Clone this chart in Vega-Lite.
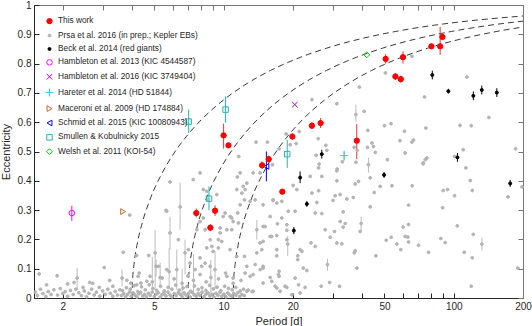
{
"$schema": "https://vega.github.io/schema/vega-lite/v6.json",
"width": 489, "height": 293,
"autosize": {"type": "none"},
"padding": {"left": 34, "top": 5, "right": 9, "bottom": 28},
"background": "white",
"config": {
 "view": {"stroke": null},
 "font": "Liberation Sans",
 "axis": {"labelFont": "Liberation Sans", "titleFont": "Liberation Sans", "labelFontSize": 10, "titleFontSize": 11, "titleFontWeight": "normal", "labelColor": "#262626", "titleColor": "#262626", "domainColor": "#262626", "tickColor": "#262626", "tickSize": -5, "grid": false, "labelPadding": 8},
 "legend": {"orient": "none", "legendX": 11, "legendY": 12, "labelFont": "Liberation Sans", "labelFontSize": 8.3, "labelColor": "#262626", "rowPadding": 4.4, "symbolStrokeWidth": 1, "labelOffset": 4, "padding": 0}
},
"datasets": {
 "curves": [
  {"c":"4","P":4,"e":0},{"c":"4","P":4.02,"e":0.0576},{"c":"4","P":4.08,"e":0.1145},{"c":"4","P":4.2,"e":0.1789},{"c":"4","P":4.4,"e":0.2481},{"c":"4","P":4.8,"e":0.3383},{"c":"4","P":5.4,"e":0.4258},{"c":"4","P":6,"e":0.4867},{"c":"4","P":7,"e":0.558},{"c":"4","P":8,"e":0.6083},{"c":"4","P":10,"e":0.6761},{"c":"4","P":12,"e":0.7206},{"c":"4","P":16,"e":0.7766},{"c":"4","P":20,"e":0.8112},{"c":"4","P":28,"e":0.8525},{"c":"4","P":40,"e":0.8858},{"c":"4","P":56,"e":0.9098},{"c":"4","P":80,"e":0.9297},{"c":"4","P":120,"e":0.9468},{"c":"4","P":200,"e":0.9625},
  {"c":"7","P":7,"e":0},{"c":"7","P":7.035,"e":0.0576},{"c":"7","P":7.14,"e":0.1145},{"c":"7","P":7.35,"e":0.1789},{"c":"7","P":7.7,"e":0.2481},{"c":"7","P":8.4,"e":0.3383},{"c":"7","P":9.45,"e":0.4258},{"c":"7","P":10.5,"e":0.4867},{"c":"7","P":12.25,"e":0.558},{"c":"7","P":14,"e":0.6083},{"c":"7","P":17.5,"e":0.6761},{"c":"7","P":21,"e":0.7206},{"c":"7","P":28,"e":0.7766},{"c":"7","P":35,"e":0.8112},{"c":"7","P":49,"e":0.8525},{"c":"7","P":70,"e":0.8858},{"c":"7","P":98,"e":0.9098},{"c":"7","P":140,"e":0.9297},{"c":"7","P":200,"e":0.945},
  {"c":"11","P":11,"e":0},{"c":"11","P":11.055,"e":0.0576},{"c":"11","P":11.22,"e":0.1145},{"c":"11","P":11.55,"e":0.1789},{"c":"11","P":12.1,"e":0.2481},{"c":"11","P":13.2,"e":0.3383},{"c":"11","P":14.85,"e":0.4258},{"c":"11","P":16.5,"e":0.4867},{"c":"11","P":19.25,"e":0.558},{"c":"11","P":22,"e":0.6083},{"c":"11","P":27.5,"e":0.6761},{"c":"11","P":33,"e":0.7206},{"c":"11","P":44,"e":0.7766},{"c":"11","P":55,"e":0.8112},{"c":"11","P":77,"e":0.8525},{"c":"11","P":110,"e":0.8858},{"c":"11","P":154,"e":0.9098},{"c":"11","P":200,"e":0.9249}
 ],
 "pts": [
  {"s":"P","P":24.2,"e":0.677},{"s":"P","P":31.06,"e":0.663},{"s":"P","P":13.84,"e":0.532},{"s":"P","P":15.5,"e":0.532},{"s":"P","P":18.7,"e":0.56},{"s":"P","P":21.3,"e":0.568},{"s":"P","P":19.47,"e":0.523},{"s":"P","P":17.43,"e":0.509},{"s":"P","P":20.67,"e":0.527},{"s":"P","P":25.76,"e":0.544},
  {"s":"P","P":27.82,"e":0.521},{"s":"P","P":28.1,"e":0.504},{"s":"P","P":50.5,"e":0.768},{"s":"P","P":65.8,"e":0.825},{"s":"P","P":38.9,"e":0.72},{"s":"P","P":114.1,"e":0.754},{"s":"P","P":74.65,"e":0.686},{"s":"P","P":40.8,"e":0.637},{"s":"P","P":37.56,"e":0.626,"lo":0.602,"hi":0.66},{"s":"P","P":142.2,"e":0.616},
  {"s":"P","P":106.5,"e":0.589},{"s":"P","P":119.2,"e":0.588},{"s":"P","P":50.0,"e":0.588},{"s":"P","P":53.4,"e":0.595},{"s":"P","P":75.7,"e":0.58},{"s":"P","P":61.1,"e":0.569},{"s":"P","P":42.35,"e":0.572},{"s":"P","P":58.4,"e":0.537},{"s":"P","P":65.8,"e":0.532},{"s":"P","P":66.9,"e":0.539},
  {"s":"P","P":44.1,"e":0.529},{"s":"P","P":44.8,"e":0.517},{"s":"P","P":45.6,"e":0.497},{"s":"P","P":42.2,"e":0.514},{"s":"P","P":61.5,"e":0.495},{"s":"P","P":51.5,"e":0.472},{"s":"P","P":73.7,"e":0.461},{"s":"P","P":75.2,"e":0.472},{"s":"P","P":110.0,"e":0.506},{"s":"P","P":100.8,"e":0.483},
  {"s":"P","P":185.7,"e":0.509},{"s":"P","P":113.0,"e":0.444},{"s":"P","P":26.0,"e":0.457},{"s":"P","P":25.25,"e":0.487},{"s":"P","P":32.8,"e":0.465},{"s":"P","P":37.56,"e":0.463},{"s":"P","P":42.6,"e":0.455,"lo":0.428,"hi":0.479},{"s":"P","P":31.15,"e":0.44},{"s":"P","P":16.3,"e":0.455},{"s":"P","P":11.64,"e":0.483},
  {"s":"P","P":7.9,"e":0.427},{"s":"P","P":5.85,"e":0.396},{"s":"P","P":7.38,"e":0.404},{"s":"P","P":8.45,"e":0.364},{"s":"P","P":9.34,"e":0.353},{"s":"P","P":5.66,"e":0.296},{"s":"P","P":3.91,"e":0.283},{"s":"P","P":6.47,"e":0.311,"lo":0.233,"hi":0.394},{"s":"P","P":5.85,"e":0.222,"lo":0.165,"hi":0.277},{"s":"P","P":6.36,"e":0.199},
  {"s":"P","P":7.65,"e":0.233},{"s":"P","P":8.31,"e":0.233},{"s":"P","P":9.66,"e":0.222},{"s":"P","P":10.33,"e":0.233},{"s":"P","P":10.85,"e":0.233},{"s":"P","P":8.74,"e":0.199},{"s":"P","P":9.49,"e":0.199},{"s":"P","P":8.45,"e":0.171},{"s":"P","P":8.89,"e":0.176},{"s":"P","P":7.03,"e":0.165},
  {"s":"P","P":6.8,"e":0.154,"lo":0.08,"hi":0.199},{"s":"P","P":9.0,"e":0.159},{"s":"P","P":10.15,"e":0.29},{"s":"P","P":10.67,"e":0.278},{"s":"P","P":11.0,"e":0.261},{"s":"P","P":11.8,"e":0.318},{"s":"P","P":11.41,"e":0.37},{"s":"P","P":12.0,"e":0.358},{"s":"P","P":11.6,"e":0.256},{"s":"P","P":12.16,"e":0.381},
  {"s":"P","P":12.61,"e":0.392},{"s":"P","P":13.94,"e":0.233,"lo":0.199,"hi":0.267},{"s":"P","P":14.41,"e":0.188},{"s":"P","P":14.85,"e":0.193},{"s":"P","P":15.93,"e":0.21},{"s":"P","P":17.03,"e":0.324},{"s":"P","P":16.4,"e":0.335},{"s":"P","P":11.8,"e":0.427},{"s":"P","P":13.04,"e":0.33},{"s":"P","P":13.71,"e":0.335},
  {"s":"P","P":15.93,"e":0.278},{"s":"P","P":14.66,"e":0.165},{"s":"P","P":17.03,"e":0.165},{"s":"P","P":12.32,"e":0.142},{"s":"P","P":12.61,"e":0.108},{"s":"P","P":13.71,"e":0.114},{"s":"P","P":14.41,"e":0.097},{"s":"P","P":11.41,"e":0.142},{"s":"P","P":17.3,"e":0.08},{"s":"P","P":16.2,"e":0.057},
  {"s":"P","P":14.85,"e":0.051},{"s":"P","P":17.03,"e":0.034},{"s":"P","P":13.04,"e":0.074},{"s":"P","P":11.0,"e":0.068},{"s":"P","P":10.33,"e":0.074},{"s":"P","P":5.04,"e":0.154,"lo":0.028,"hi":0.233},{"s":"P","P":5.21,"e":0.108},{"s":"P","P":5.66,"e":0.097},{"s":"P","P":4.79,"e":0.074},{"s":"P","P":4.19,"e":0.045},
  {"s":"P","P":4.64,"e":0.057},{"s":"P","P":6.26,"e":0.097,"lo":0.028,"hi":0.165},{"s":"P","P":7.15,"e":0.119},{"s":"P","P":7.9,"e":0.137},{"s":"P","P":8.03,"e":0.108},{"s":"P","P":8.31,"e":0.119},{"s":"P","P":8.74,"e":0.108},{"s":"P","P":9.18,"e":0.097,"lo":0.03,"hi":0.16},{"s":"P","P":7.52,"e":0.097},{"s":"P","P":3.66,"e":0.156},
  {"s":"P","P":3.03,"e":0.104},{"s":"P","P":1.58,"e":0.082},{"s":"P","P":1.89,"e":0.076},{"s":"P","P":4.19,"e":0.145},{"s":"P","P":4.73,"e":0.145},{"s":"P","P":5.09,"e":0.108,"lo":0.073,"hi":0.131},{"s":"P","P":2.31,"e":0.068,"lo":0.028,"hi":0.103},{"s":"P","P":2.24,"e":0.053},{"s":"P","P":2.62,"e":0.053},{"s":"P","P":2.45,"e":0.036},
  {"s":"P","P":2.88,"e":0.036},{"s":"P","P":3.62,"e":0.068,"lo":0.04,"hi":0.097},{"s":"P","P":3.3,"e":0.04},{"s":"P","P":3.95,"e":0.051},{"s":"P","P":4.37,"e":0.051},{"s":"P","P":4.25,"e":0.074},{"s":"P","P":5.41,"e":0.068},{"s":"P","P":5.62,"e":0.299},{"s":"P","P":8.16,"e":0.37},{"s":"P","P":8.58,"e":0.335},
  {"s":"P","P":7.9,"e":0.261},{"s":"P","P":8.16,"e":0.273},{"s":"P","P":9.96,"e":0.278},{"s":"P","P":10.85,"e":0.273},{"s":"P","P":9.82,"e":0.193},{"s":"P","P":9.66,"e":0.239},{"s":"P","P":9.49,"e":0.171},{"s":"P","P":10.67,"e":0.165},{"s":"P","P":11.48,"e":0.413},{"s":"P","P":12.4,"e":0.37},
  {"s":"P","P":12.32,"e":0.335},{"s":"P","P":11.52,"e":0.29},{"s":"P","P":14.85,"e":0.244},{"s":"P","P":13.44,"e":0.427},{"s":"P","P":14.41,"e":0.427},{"s":"P","P":13.94,"e":0.154},{"s":"P","P":12.4,"e":0.085},{"s":"P","P":14.85,"e":0.108},{"s":"P","P":13.44,"e":0.08},{"s":"P","P":12.61,"e":0.023},
  {"s":"P","P":13.44,"e":0.023},{"s":"P","P":25.87,"e":0.444},{"s":"P","P":23.78,"e":0.415},{"s":"P","P":26.73,"e":0.415},{"s":"P","P":31.06,"e":0.434},{"s":"P","P":31.06,"e":0.4},{"s":"P","P":43.35,"e":0.41},{"s":"P","P":38.55,"e":0.398},{"s":"P","P":37.3,"e":0.389},{"s":"P","P":47.92,"e":0.381},
  {"s":"P","P":45.12,"e":0.36},{"s":"P","P":53.9,"e":0.383},{"s":"P","P":20.81,"e":0.37},{"s":"P","P":24.19,"e":0.358},{"s":"P","P":25.87,"e":0.366},{"s":"P","P":30.53,"e":0.349},{"s":"P","P":32.1,"e":0.353},{"s":"P","P":34.33,"e":0.338},{"s":"P","P":36.6,"e":0.343},{"s":"P","P":29.9,"e":0.333},
  {"s":"P","P":25.42,"e":0.326},{"s":"P","P":43.35,"e":0.311},{"s":"P","P":33.1,"e":0.294},{"s":"P","P":25.0,"e":0.29},{"s":"P","P":26.73,"e":0.288},{"s":"P","P":19.1,"e":0.296},{"s":"P","P":20.46,"e":0.296},{"s":"P","P":17.9,"e":0.273},{"s":"P","P":18.83,"e":0.25},{"s":"P","P":32.1,"e":0.261},
  {"s":"P","P":33.76,"e":0.254},{"s":"P","P":33.1,"e":0.242},{"s":"P","P":39.6,"e":0.254,"lo":0.23,"hi":0.277},{"s":"P","P":39.2,"e":0.227},{"s":"P","P":27.63,"e":0.233},{"s":"P","P":30.32,"e":0.227},{"s":"P","P":29.05,"e":0.207},{"s":"P","P":17.03,"e":0.213},{"s":"P","P":18.83,"e":0.199},{"s":"P","P":19.0,"e":0.184,"lo":0.144,"hi":0.213},
  {"s":"P","P":24.0,"e":0.188},{"s":"P","P":25.0,"e":0.176},{"s":"P","P":31.06,"e":0.188},{"s":"P","P":32.65,"e":0.185},{"s":"P","P":37.0,"e":0.154},{"s":"P","P":37.3,"e":0.161},{"s":"P","P":45.9,"e":0.144},{"s":"P","P":50.9,"e":0.197},{"s":"P","P":53.5,"e":0.207},{"s":"P","P":21.5,"e":0.165},
  {"s":"P","P":21.9,"e":0.159},{"s":"P","P":21.0,"e":0.144},{"s":"P","P":21.0,"e":0.131},{"s":"P","P":28.27,"e":0.114,"lo":0.093,"hi":0.134},{"s":"P","P":37.94,"e":0.102},{"s":"P","P":22.2,"e":0.102},{"s":"P","P":23.0,"e":0.094},{"s":"P","P":17.43,"e":0.091},{"s":"P","P":17.43,"e":0.074},{"s":"P","P":20.46,"e":0.068},
  {"s":"P","P":28.9,"e":0.053},{"s":"P","P":26.55,"e":0.04},{"s":"P","P":31.9,"e":0.04},{"s":"P","P":22.6,"e":0.036},{"s":"P","P":21.17,"e":0.045},{"s":"P","P":18.83,"e":0.036},{"s":"P","P":17.6,"e":0.023},{"s":"P","P":19.8,"e":0.011},{"s":"P","P":21.5,"e":0.017},{"s":"P","P":17.03,"e":0.144},
  {"s":"P","P":20.05,"e":0.384},{"s":"P","P":16.4,"e":0.333},{"s":"P","P":17.9,"e":0.33},{"s":"P","P":14.85,"e":0.318},{"s":"P","P":15.15,"e":0.244},{"s":"P","P":17.14,"e":0.253},{"s":"P","P":16.2,"e":0.21},{"s":"P","P":18.83,"e":0.231},{"s":"P","P":14.85,"e":0.102},{"s":"P","P":15.93,"e":0.07},
  {"s":"P","P":16.75,"e":0.04},{"s":"P","P":18.51,"e":0.04},{"s":"P","P":76.5,"e":0.478},{"s":"P","P":73.6,"e":0.458},{"s":"P","P":118.0,"e":0.401},{"s":"P","P":120.4,"e":0.367},{"s":"P","P":90.0,"e":0.367},{"s":"P","P":94.0,"e":0.37},{"s":"P","P":100.8,"e":0.349},{"s":"P","P":172.1,"e":0.345},
  {"s":"P","P":198,"e":0.379},{"s":"P","P":66.0,"e":0.383},{"s":"P","P":63.6,"e":0.317},{"s":"P","P":89.5,"e":0.308},{"s":"P","P":103.6,"e":0.246},{"s":"P","P":63.6,"e":0.251},{"s":"P","P":60.3,"e":0.242},{"s":"P","P":61.5,"e":0.21},{"s":"P","P":63.2,"e":0.208},{"s":"P","P":63.6,"e":0.191},
  {"s":"P","P":56.6,"e":0.184},{"s":"P","P":58.9,"e":0.165},{"s":"P","P":70.3,"e":0.18},{"s":"P","P":77.7,"e":0.156},{"s":"P","P":87.9,"e":0.203},{"s":"P","P":91.8,"e":0.189},{"s":"P","P":121.6,"e":0.217},{"s":"P","P":111.1,"e":0.156},{"s":"P","P":120.4,"e":0.137},{"s":"P","P":132.6,"e":0.184,"lo":0.161,"hi":0.206},
  {"s":"P","P":190,"e":0.102},{"s":"P","P":119.2,"e":0.04},{"s":"P","P":36.93,"e":0.514},{"s":"P","P":38.05,"e":0.504},
  {"s":"P","P":1.52,"e":0.02},{"s":"P","P":1.55,"e":0.008},{"s":"P","P":1.6,"e":0.03},{"s":"P","P":1.64,"e":0.015},{"s":"P","P":1.69,"e":0.005},{"s":"P","P":1.73,"e":0.022},{"s":"P","P":1.78,"e":0.012},{"s":"P","P":1.83,"e":0.028},{"s":"P","P":1.9,"e":0.01},{"s":"P","P":1.95,"e":0.032},
  {"s":"P","P":2.0,"e":0.015},{"s":"P","P":2.05,"e":0.022},{"s":"P","P":2.1,"e":0.006},{"s":"P","P":2.16,"e":0.026},{"s":"P","P":2.22,"e":0.012},{"s":"P","P":2.28,"e":0.03},{"s":"P","P":2.35,"e":0.018},{"s":"P","P":2.41,"e":0.008},{"s":"P","P":2.48,"e":0.024},{"s":"P","P":2.54,"e":0.004},
  {"s":"P","P":2.6,"e":0.016},{"s":"P","P":2.67,"e":0.03},{"s":"P","P":2.74,"e":0.01},{"s":"P","P":2.8,"e":0.02},{"s":"P","P":2.9,"e":0.006},{"s":"P","P":2.98,"e":0.024},{"s":"P","P":3.06,"e":0.012},{"s":"P","P":3.14,"e":0.03},{"s":"P","P":3.22,"e":0.016},{"s":"P","P":3.3,"e":0.006},
  {"s":"P","P":3.38,"e":0.022},{"s":"P","P":3.46,"e":0.01},{"s":"P","P":3.54,"e":0.028},{"s":"P","P":1.7,"e":0.045},{"s":"P","P":2.1,"e":0.048},{"s":"P","P":2.7,"e":0.05},{"s":"P","P":3.2,"e":0.06},
  {"s":"P","P":3.6,"e":0.008},{"s":"P","P":3.68,"e":0.015},{"s":"P","P":3.75,"e":0.004},{"s":"P","P":3.82,"e":0.012},{"s":"P","P":3.9,"e":0.02},{"s":"P","P":3.97,"e":0.006},{"s":"P","P":4.05,"e":0.017},{"s":"P","P":4.12,"e":0.01},{"s":"P","P":4.2,"e":0.003},{"s":"P","P":4.28,"e":0.014},
  {"s":"P","P":4.36,"e":0.019},{"s":"P","P":4.45,"e":0.007},{"s":"P","P":4.53,"e":0.012},{"s":"P","P":4.62,"e":0.004},{"s":"P","P":4.71,"e":0.016},{"s":"P","P":4.8,"e":0.009},{"s":"P","P":4.9,"e":0.02},{"s":"P","P":5.0,"e":0.005},{"s":"P","P":5.1,"e":0.013},{"s":"P","P":5.2,"e":0.018},
  {"s":"P","P":5.3,"e":0.003},{"s":"P","P":5.4,"e":0.011},{"s":"P","P":5.5,"e":0.016},{"s":"P","P":5.62,"e":0.007},{"s":"P","P":5.73,"e":0.02},{"s":"P","P":5.85,"e":0.01},{"s":"P","P":5.97,"e":0.004},{"s":"P","P":6.1,"e":0.015},{"s":"P","P":6.22,"e":0.008},{"s":"P","P":6.35,"e":0.018},
  {"s":"P","P":6.48,"e":0.012},{"s":"P","P":6.6,"e":0.005},{"s":"P","P":6.74,"e":0.017},{"s":"P","P":6.88,"e":0.009},{"s":"P","P":7.02,"e":0.014},{"s":"P","P":7.16,"e":0.003},{"s":"P","P":7.3,"e":0.019},{"s":"P","P":7.45,"e":0.011},{"s":"P","P":7.6,"e":0.006},{"s":"P","P":7.75,"e":0.015},
  {"s":"P","P":7.9,"e":0.009},{"s":"P","P":8.06,"e":0.02},{"s":"P","P":8.22,"e":0.004},{"s":"P","P":8.38,"e":0.013},{"s":"P","P":8.55,"e":0.017},{"s":"P","P":8.72,"e":0.007},{"s":"P","P":8.9,"e":0.012},{"s":"P","P":9.08,"e":0.003},{"s":"P","P":9.26,"e":0.016},{"s":"P","P":9.45,"e":0.009},
  {"s":"P","P":9.64,"e":0.019},{"s":"P","P":9.83,"e":0.006},{"s":"P","P":10.03,"e":0.013},{"s":"P","P":10.23,"e":0.004},{"s":"P","P":10.43,"e":0.017},{"s":"P","P":10.64,"e":0.01},{"s":"P","P":10.85,"e":0.006},{"s":"P","P":11.07,"e":0.015},{"s":"P","P":11.3,"e":0.009},{"s":"P","P":11.52,"e":0.018},
  {"s":"P","P":11.75,"e":0.005},{"s":"P","P":12.0,"e":0.012},{"s":"P","P":12.3,"e":0.008},
  {"s":"P","P":3.64,"e":0.025},{"s":"P","P":3.78,"e":0.035},{"s":"P","P":3.93,"e":0.03},{"s":"P","P":4.08,"e":0.042},{"s":"P","P":4.24,"e":0.022},{"s":"P","P":4.4,"e":0.038},{"s":"P","P":4.57,"e":0.028},{"s":"P","P":4.75,"e":0.045},{"s":"P","P":4.93,"e":0.032},{"s":"P","P":5.12,"e":0.026},
  {"s":"P","P":5.32,"e":0.04},{"s":"P","P":5.52,"e":0.024},{"s":"P","P":5.74,"e":0.036},{"s":"P","P":5.96,"e":0.03},{"s":"P","P":6.19,"e":0.044},{"s":"P","P":6.42,"e":0.027},{"s":"P","P":6.67,"e":0.034},{"s":"P","P":6.93,"e":0.039},{"s":"P","P":7.19,"e":0.023},{"s":"P","P":7.47,"e":0.041},
  {"s":"P","P":7.76,"e":0.029},{"s":"P","P":8.06,"e":0.035},{"s":"P","P":8.37,"e":0.026},{"s":"P","P":8.69,"e":0.043},{"s":"P","P":9.02,"e":0.031},{"s":"P","P":9.37,"e":0.037},{"s":"P","P":9.73,"e":0.025},{"s":"P","P":10.1,"e":0.04},{"s":"P","P":10.5,"e":0.033},{"s":"P","P":10.9,"e":0.028},
  {"s":"P","P":11.3,"e":0.036},{"s":"P","P":11.8,"e":0.024},{"s":"P","P":12.2,"e":0.03},{"s":"P","P":12.8,"e":0.027},{"s":"P","P":13.3,"e":0.022},
  {"s":"P","P":3.8,"e":0.06},{"s":"P","P":4.3,"e":0.085},{"s":"P","P":4.9,"e":0.055,"lo":0.02,"hi":0.14},{"s":"P","P":5.3,"e":0.07,"lo":0.04,"hi":0.12},{"s":"P","P":5.8,"e":0.09,"lo":0.03,"hi":0.17},{"s":"P","P":6.1,"e":0.065},{"s":"P","P":6.6,"e":0.05,"lo":0.01,"hi":0.1},{"s":"P","P":7.0,"e":0.075},{"s":"P","P":7.4,"e":0.06,"lo":0.02,"hi":0.15},{"s":"P","P":7.9,"e":0.08},
  {"s":"P","P":8.4,"e":0.055},{"s":"P","P":8.8,"e":0.07,"lo":0.01,"hi":0.13},{"s":"P","P":9.5,"e":0.065},{"s":"P","P":10.2,"e":0.085},{"s":"P","P":11.0,"e":0.05},{"s":"P","P":11.9,"e":0.06},
  {"s":"B","P":26.7,"e":0.491,"lo":0.476,"hi":0.506},{"s":"B","P":21.5,"e":0.411,"lo":0.392,"hi":0.432},{"s":"B","P":23.0,"e":0.321,"lo":0.311,"hi":0.331},{"s":"B","P":20.2,"e":0.23,"lo":0.218,"hi":0.242},{"s":"B","P":49.8,"e":0.42,"lo":0.41,"hi":0.43},{"s":"B","P":103.8,"e":0.48,"lo":0.465,"hi":0.495},{"s":"B","P":175.9,"e":0.391,"lo":0.379,"hi":0.403},{"s":"B","P":80.7,"e":0.761,"lo":0.746,"hi":0.776},{"s":"B","P":94.8,"e":0.706,"lo":0.698,"hi":0.714},{"s":"B","P":121.7,"e":0.69,"lo":0.675,"hi":0.705},{"s":"B","P":132.4,"e":0.71,"lo":0.695,"hi":0.725},{"s":"B","P":153.9,"e":0.701,"lo":0.686,"hi":0.716},
  {"s":"H13","P":2.19,"e":0.29,"lo":0.263,"hi":0.315},
  {"s":"H16","P":20.4,"e":0.66},
  {"s":"Ha","P":33.4,"e":0.486,"lo":0.469,"hi":0.503},
  {"s":"M","P":3.66,"e":0.295},
  {"s":"Sc","P":15.34,"e":0.449,"lo":0.398,"hi":0.5},
  {"s":"Sm","P":7.05,"e":0.602,"lo":0.563,"hi":0.643},{"s":"Sm","P":10.2,"e":0.643,"lo":0.598,"hi":0.688},{"s":"Sm","P":8.64,"e":0.339,"lo":0.299,"hi":0.381},{"s":"Sm","P":18.9,"e":0.491,"lo":0.444,"hi":0.54},
  {"s":"W","P":41.9,"e":0.83},
  {"s":"T","P":10.0,"e":0.555,"lo":0.51,"hi":0.595},{"s":"T","P":10.5,"e":0.521},{"s":"T","P":14.7,"e":0.453,"lo":0.44,"hi":0.466},{"s":"T","P":15.7,"e":0.474,"lo":0.462,"hi":0.486},{"s":"T","P":7.61,"e":0.29,"lo":0.275,"hi":0.305},{"s":"T","P":9.18,"e":0.298,"lo":0.28,"hi":0.316},{"s":"T","P":8.76,"e":0.24,"lo":0.228,"hi":0.252},{"s":"T","P":18.0,"e":0.363},{"s":"T","P":19.9,"e":0.551,"lo":0.54,"hi":0.562},{"s":"T","P":24.2,"e":0.588,"lo":0.576,"hi":0.6},
  {"s":"T","P":26.4,"e":0.597,"lo":0.58,"hi":0.614},{"s":"T","P":37.9,"e":0.537,"lo":0.474,"hi":0.594},{"s":"T","P":50.6,"e":0.816,"lo":0.8,"hi":0.832},{"s":"T","P":60.2,"e":0.822,"lo":0.8,"hi":0.842},{"s":"T","P":55.8,"e":0.756,"lo":0.744,"hi":0.768},{"s":"T","P":58.9,"e":0.747,"lo":0.735,"hi":0.759},{"s":"T","P":80.0,"e":0.859,"lo":0.85,"hi":0.868},{"s":"T","P":87.3,"e":0.859,"lo":0.83,"hi":0.925},{"s":"T","P":89.3,"e":0.891,"lo":0.881,"hi":0.901}
 ]
},
"layer": [
 {
  "data": {"name": "curves"},
  "mark": {"type": "line", "strokeDash": [6, 4], "color": "#3a3a3a", "strokeWidth": 1, "interpolate": "monotone", "clip": true},
  "encoding": {
   "x": {"field": "P", "type": "quantitative", "scale": {"type": "log", "domain": [1.5, 200], "nice": false}, "axis": {"orient": "top", "labels": false, "title": null, "values": [2,3,4,5,6,7,8,9,10,20,30,40,50,60,70,80,90,100,200], "domainColor": "#777", "tickColor": "#777"}},
   "y": {"field": "e", "type": "quantitative", "scale": {"domain": [0, 1], "nice": false}, "axis": {"orient": "right", "labels": false, "title": null, "values": [0,0.1,0.2,0.3,0.4,0.5,0.6,0.7,0.8,0.9,1], "domainColor": "#777", "tickColor": "#777"}},
   "detail": {"field": "c"}
  }
 },
 {
  "data": {"name": "pts"},
  "transform": [{"filter": "isValid(datum.lo)"}],
  "mark": {"type": "rule", "strokeWidth": 1},
  "encoding": {
   "x": {"field": "P", "type": "quantitative", "axis": null},
   "y": {"field": "lo", "type": "quantitative", "axis": null},
   "y2": {"field": "hi"},
   "color": {"field": "s", "type": "nominal", "legend": null, "scale": {"domain": ["T","P","B","H13","H16","Ha","M","Sc","Sm","W"], "range": ["#f03030","#bdbdbd","#000000","#ff00ff","#b000b0","#33ccff","#c8642a","#0000ff","#22b5b5","#00cc00"]}}
  }
 },
 {
  "data": {"name": "pts"},
  "mark": {"type": "point", "opacity": 1, "strokeWidth": 1},
  "encoding": {
   "x": {"field": "P", "type": "quantitative", "axis": {"orient": "bottom", "title": "Period [d]", "values": [2,3,4,5,6,7,8,9,10,20,30,40,50,60,70,80,90,100,200], "labelExpr": "indexof([2,5,10,20,50,100,200], datum.value) >= 0 ? datum.label : ''", "labelOverlap": false, "labelFlush": false, "titlePadding": 4}},
   "y": {"field": "e", "type": "quantitative", "axis": {"orient": "left", "title": "Eccentricity", "values": [0,0.1,0.2,0.3,0.4,0.5,0.6,0.7,0.8,0.9,1], "format": "~g", "titlePadding": 6}},
   "shape": {"field": "s", "type": "nominal", "scale": {"domain": ["T","P","B","H13","H16","Ha","M","Sc","Sm","W"], "range": ["circle","circle","circle","circle","M-1,-1L1,1M-1,1L1,-1","M-1,0L1,0M0,-1L0,1","triangle-right","triangle-left","square","diamond"]}, "legend": {"title": null, "labelExpr": "datum.label=='T'?'This work':datum.label=='P'?'Prsa et al. 2016 (in prep.; Kepler EBs)':datum.label=='B'?'Beck et al. 2014 (red giants)':datum.label=='H13'?'Hambleton et al. 2013 (KIC 4544587)':datum.label=='H16'?'Hambleton et al. 2016 (KIC 3749404)':datum.label=='Ha'?'Hareter et al. 2014 (HD 51844)':datum.label=='M'?'Maceroni et al. 2009 (HD 174884)':datum.label=='Sc'?'Schmid et al. 2015 (KIC 10080943)':datum.label=='Sm'?'Smullen & Kobulnicky 2015':'Welsh et al. 2011 (KOI-54)'"}},
   "stroke": {"field": "s", "type": "nominal", "scale": {"domain": ["T","P","B","H13","H16","Ha","M","Sc","Sm","W"], "range": ["#ff0000","#b4b4b4","#000000","#ff00ff","#b000b0","#33ccff","#c8642a","#0000ff","#22b5b5","#00cc00"]}, "legend": {"title": null, "labelExpr": "datum.label=='T'?'This work':datum.label=='P'?'Prsa et al. 2016 (in prep.; Kepler EBs)':datum.label=='B'?'Beck et al. 2014 (red giants)':datum.label=='H13'?'Hambleton et al. 2013 (KIC 4544587)':datum.label=='H16'?'Hambleton et al. 2016 (KIC 3749404)':datum.label=='Ha'?'Hareter et al. 2014 (HD 51844)':datum.label=='M'?'Maceroni et al. 2009 (HD 174884)':datum.label=='Sc'?'Schmid et al. 2015 (KIC 10080943)':datum.label=='Sm'?'Smullen & Kobulnicky 2015':'Welsh et al. 2011 (KOI-54)'"}},
   "fill": {"field": "s", "type": "nominal", "scale": {"domain": ["T","P","B","H13","H16","Ha","M","Sc","Sm","W"], "range": ["#ff0000","#b4b4b4","#000000","transparent","transparent","transparent","transparent","transparent","transparent","transparent"]}, "legend": {"title": null, "labelExpr": "datum.label=='T'?'This work':datum.label=='P'?'Prsa et al. 2016 (in prep.; Kepler EBs)':datum.label=='B'?'Beck et al. 2014 (red giants)':datum.label=='H13'?'Hambleton et al. 2013 (KIC 4544587)':datum.label=='H16'?'Hambleton et al. 2016 (KIC 3749404)':datum.label=='Ha'?'Hareter et al. 2014 (HD 51844)':datum.label=='M'?'Maceroni et al. 2009 (HD 174884)':datum.label=='Sc'?'Schmid et al. 2015 (KIC 10080943)':datum.label=='Sm'?'Smullen & Kobulnicky 2015':'Welsh et al. 2011 (KOI-54)'"}},
   "size": {"field": "s", "type": "nominal", "scale": {"type": "ordinal", "domain": ["T","P","B","H13","H16","Ha","M","Sc","Sm","W"], "range": [28,8,9,30,30,64,32,32,30,34]}, "legend": {"title": null, "labelExpr": "datum.label=='T'?'This work':datum.label=='P'?'Prsa et al. 2016 (in prep.; Kepler EBs)':datum.label=='B'?'Beck et al. 2014 (red giants)':datum.label=='H13'?'Hambleton et al. 2013 (KIC 4544587)':datum.label=='H16'?'Hambleton et al. 2016 (KIC 3749404)':datum.label=='Ha'?'Hareter et al. 2014 (HD 51844)':datum.label=='M'?'Maceroni et al. 2009 (HD 174884)':datum.label=='Sc'?'Schmid et al. 2015 (KIC 10080943)':datum.label=='Sm'?'Smullen & Kobulnicky 2015':'Welsh et al. 2011 (KOI-54)'"}}
  }
 }
],
"resolve": {"axis": {"x": "independent", "y": "independent"}, "scale": {"color": "independent"}}
}
